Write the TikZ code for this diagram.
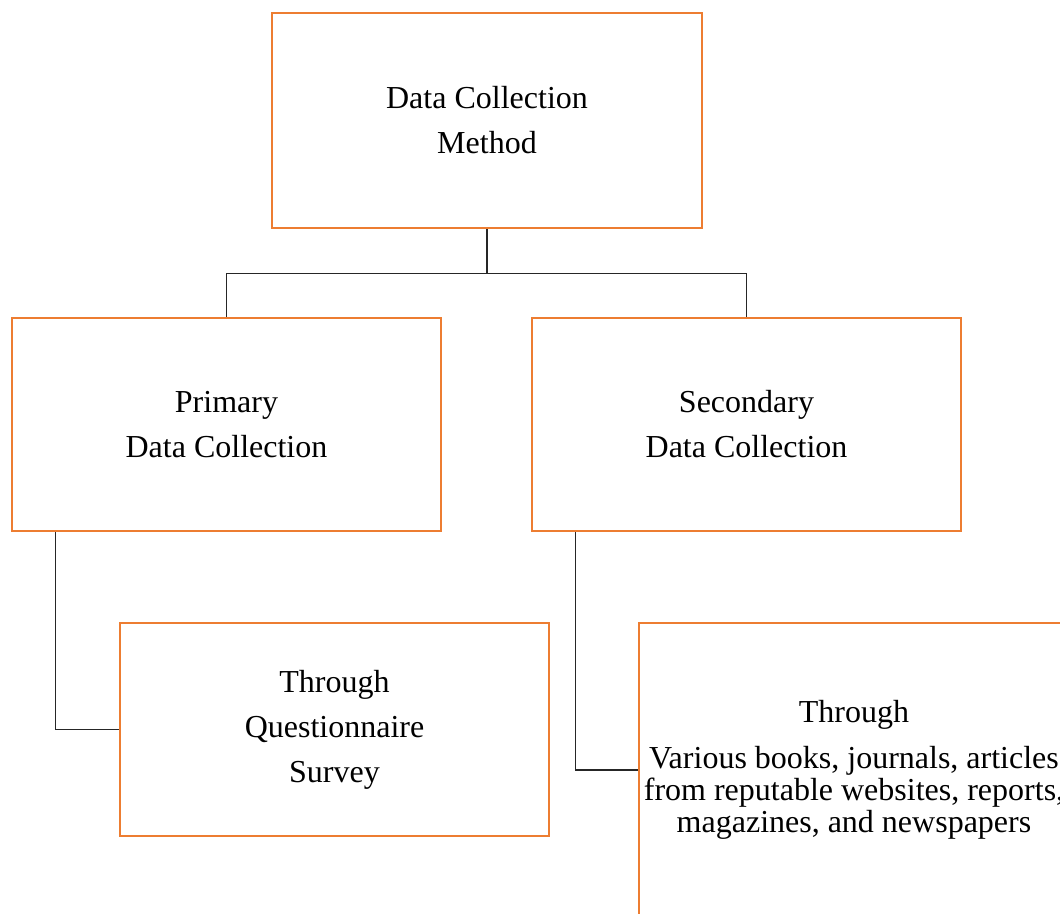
\documentclass[tikz,border=0pt]{standalone}
\usepackage{fontspec}
\setmainfont{Liberation Serif}
\usetikzlibrary{positioning,calc}
\definecolor{boxorange}{HTML}{ED7D31}

\begin{document}
\begin{tikzpicture}[x=1pt, y=-1pt, line join=miter,
  box/.style={draw=boxorange, line width=2.5pt, minimum width=429pt, minimum height=213pt, align=center, inner sep=0pt, font=\fontsize{32}{45}\selectfont},
  link/.style={draw=black!85, line width=1.2pt}]
\useasboundingbox (0,0) rectangle (1060,913);
\clip (0,0) rectangle (1060,913);
\node[box, minimum width=430pt, minimum height=215pt] (dcm) at (487,120.5) {Data Collection\\Method};
\node[box] (pri) at (226.5,424.5) {Primary\\Data Collection};
\node[box] (sec) at (746.5,424.5) {Secondary\\Data Collection};
\node[box] (qs)  at (334.5,729.5) {Through\\Questionnaire\\Survey};
\node[box, minimum width=430pt, minimum height=294pt, font=\fontsize{32}{32}\selectfont] (vb) at (854,770)
  {Through\\[14pt]Various books, journals, articles\\from reputable websites, reports,\\magazines, and newspapers};
\draw[link] (dcm.south) -- ++(0,44) coordinate (fork);
\draw[link] (pri.north) |- (fork) -| (sec.north);
\draw[link] ($(pri.south west)+(45,0)$) |- (qs.west);
\draw[link] ($(sec.south west)+(45,0)$) |- (vb.west);
\end{tikzpicture}
\end{document}
